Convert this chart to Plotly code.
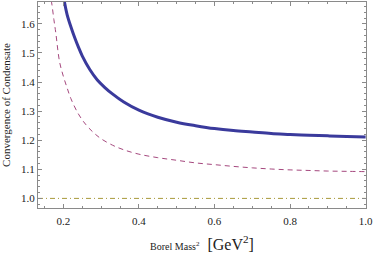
import plotly.graph_objects as go

# Borel mass squared (GeV^2) and convergence values
x_blue = [0.203, 0.21, 0.22, 0.23, 0.24, 0.25, 0.27, 0.29, 0.31, 0.33, 0.36, 0.40,
          0.45, 0.50, 0.55, 0.60, 0.65, 0.70, 0.75, 0.80, 0.85, 0.90, 0.95, 1.00]
y_blue = [1.675, 1.632, 1.59, 1.553, 1.52, 1.49, 1.443, 1.407, 1.381, 1.359, 1.331, 1.303,
          1.279, 1.262, 1.250, 1.240, 1.233, 1.228, 1.223, 1.220, 1.217, 1.215, 1.213, 1.211]

x_red = [0.168, 0.17, 0.175, 0.18, 0.19, 0.20, 0.21, 0.22, 0.24, 0.26, 0.28, 0.30, 0.33,
         0.36, 0.40, 0.45, 0.50, 0.55, 0.60, 0.65, 0.70, 0.75, 0.80, 0.85, 0.90, 0.95, 1.00]
y_red = [1.68, 1.665, 1.615, 1.57, 1.47, 1.42, 1.38, 1.343, 1.29, 1.253, 1.226, 1.205, 1.183,
         1.167, 1.152, 1.140, 1.131, 1.122, 1.116, 1.110, 1.105, 1.101, 1.098, 1.096, 1.094, 1.093, 1.092]

x_ref = [0.133, 1.00]
y_ref = [1.0, 1.0]

x_range = [0.133, 1.001]
y_range = [0.967, 1.675]
x_ticks = [0.2, 0.4, 0.6, 0.8, 1.0]
x_ticklabels = ["0.2", "0.4", "0.6", "0.8", "1.0"]
y_ticks = [1.0, 1.1, 1.2, 1.3, 1.4, 1.5, 1.6]
y_ticklabels = ["1.0", "1.1", "1.2", "1.3", "1.4", "1.5", "1.6"]

fig = go.Figure()
fig.add_trace(go.Scatter(x=x_ref, y=y_ref, mode="lines",
                         line=dict(color="#a89a3a", width=1, dash="5px,3px,1px,3px"),
                         showlegend=False))
fig.add_trace(go.Scatter(x=x_red, y=y_red, mode="lines",
                         line=dict(color="#a5487e", width=1, dash="5px,4px", shape="spline"),
                         showlegend=False))
fig.add_trace(go.Scatter(x=x_blue, y=y_blue, mode="lines",
                         line=dict(color="#3a3a9c", width=3, shape="spline"),
                         showlegend=False))

font_family = "Liberation Serif"
axis_common = dict(
    showgrid=False, zeroline=False, showline=True, linecolor="#8a8a8a", linewidth=1,
    mirror="allticks", ticks="inside", ticklen=4, tickcolor="#8a8a8a", tickwidth=1,
    tickfont=dict(family=font_family, size=11, color="#222"), automargin=False,
)

fig.update_xaxes(
    range=x_range, tickvals=x_ticks, ticktext=x_ticklabels, ticklabelstandoff=3,
    minor=dict(ticks="inside", dtick=0.05, tick0=0.0, ticklen=2, tickcolor="#8a8a8a", showgrid=False),
    title=dict(text="<span style='font-size:10px'>Borel Mass<sup>2</sup></span>  [GeV<sup>2</sup>]",
               font=dict(family=font_family, size=16, color="#222"), standoff=12),
    **axis_common,
)
fig.update_yaxes(
    range=y_range, tickvals=y_ticks, ticktext=y_ticklabels,
    minor=dict(ticks="inside", dtick=0.02, tick0=0.0, ticklen=2, tickcolor="#8a8a8a", showgrid=False),
    title=dict(text="Convergence of Condensate",
               font=dict(family=font_family, size=11, color="#222"), standoff=8),
    **axis_common,
)

fig.update_layout(
    width=374, height=254,
    margin=dict(l=38, r=8, t=2, b=46),
    paper_bgcolor="white", plot_bgcolor="white",
)

fig.write_html("out.html", config={"displayModeBar": False},
               post_script="document.body.style.margin='0';document.body.style.overflow='hidden';")
